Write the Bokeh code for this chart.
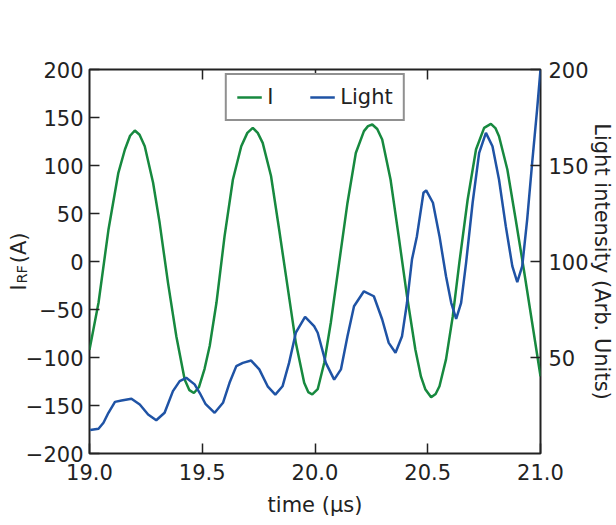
import math
from bokeh.plotting import figure
from bokeh.models import (Range1d, LinearAxis, FixedTicker, Legend, Label,
                          LegendItem, CustomJSTickFormatter)
from bokeh.embed import file_html
from bokeh.resources import INLINE

# ---------------- data ----------------
t_rf = [19.000, 19.040, 19.084, 19.128, 19.157, 19.180, 19.201, 19.222, 19.245,
        19.282, 19.311, 19.348, 19.385, 19.422, 19.443, 19.463, 19.485, 19.510,
        19.533, 19.563, 19.599, 19.636, 19.673, 19.700, 19.724, 19.746, 19.768,
        19.805, 19.841, 19.878, 19.915, 19.952, 19.970, 19.988, 20.012, 20.041,
        20.070, 20.107, 20.144, 20.181, 20.217, 20.235, 20.254, 20.276, 20.298,
        20.335, 20.371, 20.408, 20.445, 20.470, 20.489, 20.515, 20.535, 20.552,
        20.581, 20.611, 20.640, 20.677, 20.714, 20.750, 20.780, 20.800, 20.816,
        20.853, 20.890, 20.926, 20.963, 21.000]
i_rf = [-92, -43, 33, 92.4, 116.7, 131, 136.5, 132, 120,
        82, 40.3, -22, -77.8, -123, -134, -137, -131, -112,
        -88, -43, 26.4, 85.4, 120, 134, 139.2, 134, 123.6,
        89, 33.3, -25.7, -84.7, -126.4, -136, -138.5, -133, -105.5,
        -63.8, -1.4, 61, 113, 135.8, 141, 142.7, 138, 127,
        85.4, 26.4, -36, -91.7, -120, -133, -141.5, -138, -130,
        -102, -57, -1.4, 64.6, 116.7, 139.2, 143.4, 139, 130.5,
        95.8, 43.8, -8.3, -63.8, -119.5]

t_light = [19.003, 19.040, 19.062, 19.084, 19.113, 19.142, 19.186, 19.223, 19.260,
           19.296, 19.333, 19.370, 19.400, 19.429, 19.466, 19.489, 19.514, 19.555,
           19.592, 19.621, 19.651, 19.680, 19.717, 19.753, 19.790, 19.824, 19.856,
           19.885, 19.915, 19.956, 19.996, 20.012, 20.048, 20.085, 20.115, 20.144,
           20.173, 20.217, 20.261, 20.298, 20.327, 20.357, 20.386, 20.408, 20.430,
           20.452, 20.481, 20.493, 20.523, 20.552, 20.581, 20.604, 20.626, 20.648,
           20.670, 20.699, 20.728, 20.758, 20.787, 20.816, 20.846, 20.875, 20.897,
           20.919, 20.941, 20.963, 20.985, 21.000]
light = [12.2, 12.9, 16.0, 21.2, 26.9, 27.6, 28.5, 25.5, 20.3,
         17.3, 21.2, 32.5, 37.7, 39.4, 36.0, 31.5, 25.9, 21.2,
         26.4, 36.8, 45.5, 47.2, 48.4, 43.8, 35.0, 30.7, 35.0,
         47.2, 62.9, 71.2, 66.3, 62.9, 47.2, 38.5, 43.8, 61.1,
         76.7, 84.5, 81.9, 69.8, 57.6, 52.5, 61.1, 78.5, 101.0,
         113.2, 135.8, 137.0, 130.6, 113.2, 92.3, 78.5, 70.1, 78.5,
         99.3, 130.6, 156.6, 167.0, 160.0, 142.7, 118.4, 97.6, 89.2,
         97.6, 121.9, 151.4, 179.2, 200.0]

x_ticks = [19.0, 19.5, 20.0, 20.5, 21.0]
x_tick_labels = ["19.0", "19.5", "20.0", "20.5", "21.0"]
left_ticks = [-200, -150, -100, -50, 0, 50, 100, 150, 200]
left_tick_labels = ["\u2212200", "\u2212150", "\u2212100", "\u221250", "0",
                    "50", "100", "150", "200"]
right_ticks = [50, 100, 150, 200]
right_tick_labels = ["50", "100", "150", "200"]

legend_labels = ["I", "RF", "Light"]
x_label = "time (\u03bcs)"
y_label = "I\u2003(A)"
y_label_sub = "RF"
y2_label = "Light intensity (Arb. Units)"

# where the y-label subscript sits (in axis units)
y_label_sub_at = [-13.3]

# ---------------- style ----------------
FONT = "DejaVu Sans"
TXT = "#222222"
GREEN = "#17893f"
BLUE = "#1f53a5"
FS = "21px"
SUB = "14.5px"


def fmt(tv, tl):
    return CustomJSTickFormatter(args=dict(tv=tv, tl=tl), code="""
        const i = tv.indexOf(tick);
        return i >= 0 ? tl[i] : '';
    """)


p = figure(width=616, height=525, x_range=Range1d(19, 21), y_range=Range1d(-200, 200),
           x_axis_type=None, y_axis_type=None,
           output_backend="svg", toolbar_location=None,
           min_border_left=89, min_border_right=73, min_border_top=69,
           min_border_bottom=72)
p.extra_y_ranges = {"light": Range1d(0, 200)}
p.grid.visible = False
p.outline_line_color = TXT
p.outline_line_width = 2
p.background_fill_color = "white"
p.border_fill_color = "white"


def style(ax, standoff, size=FS):
    ax.axis_line_color = None
    ax.major_tick_in = 10
    ax.major_tick_out = 0
    ax.minor_tick_line_color = None
    ax.major_tick_line_color = TXT
    ax.major_tick_line_width = 1.5
    ax.major_label_text_font = FONT
    ax.major_label_text_font_size = size
    ax.major_label_text_color = TXT
    ax.major_label_standoff = standoff
    ax.axis_label_text_font = FONT
    ax.axis_label_text_font_size = FS
    ax.axis_label_text_font_style = "normal"
    ax.axis_label_text_color = TXT


def no_ticks(ax):
    ax.major_tick_in = 0
    ax.major_tick_line_color = None


# bottom axis
xb = LinearAxis(ticker=FixedTicker(ticks=x_ticks), formatter=fmt(x_ticks, x_tick_labels),
                axis_label=x_label)
style(xb, 10)
xb.axis_label_standoff = 10
p.add_layout(xb, "below")

# top: tick marks only
xt = LinearAxis(ticker=FixedTicker(ticks=x_ticks[1:-1]), formatter=fmt([], []))
style(xt, 0, size="0px")
p.add_layout(xt, "above")

g = p.line(t_rf, i_rf, line_color=GREEN, line_width=2.5)
b = p.line(t_light, light, line_color=BLUE, line_width=2.5, y_range_name="light")

legend = Legend(items=[LegendItem(label=legend_labels[0], renderers=[g]),
                       LegendItem(label=legend_labels[2], renderers=[b])],
                location="top_center", orientation="horizontal", margin=4,
                glyph_width=25, label_standoff=6, spacing=22, padding=10,
                border_line_color=TXT, border_line_width=2,
                label_text_font=FONT, label_text_font_size=FS, label_text_color=TXT,
                background_fill_color="white", background_fill_alpha=1)
p.add_layout(legend)

# legend subscript, inside the frame next to the "I", drawn over the legend
p.add_layout(Label(x=187, y=344, x_units="screen", y_units="screen",
                   text=legend_labels[1], text_font=FONT, text_font_size=SUB,
                   text_color=TXT, text_baseline="alphabetic", text_align="left",
                   level="overlay"))

# left axis, then the subscript of its label
yl = LinearAxis(ticker=FixedTicker(ticks=left_ticks), formatter=fmt(left_ticks, left_tick_labels),
                axis_label=y_label)
style(yl, 6)
yl.axis_label_standoff = -8
p.add_layout(yl, "left")

ys = LinearAxis(ticker=FixedTicker(ticks=y_label_sub_at),
                formatter=fmt(y_label_sub_at, [y_label_sub]))
style(ys, -27, size=SUB)
no_ticks(ys)
ys.major_label_orientation = "parallel"
p.add_layout(ys, "left")

# right axis
yr = LinearAxis(y_range_name="light", ticker=FixedTicker(ticks=right_ticks),
                formatter=fmt(right_ticks, right_tick_labels), axis_label=y2_label)
style(yr, 8)
yr.axis_label_standoff = -2
p.add_layout(yr, "right")

open("out.html", "w").write(file_html(p, INLINE))
